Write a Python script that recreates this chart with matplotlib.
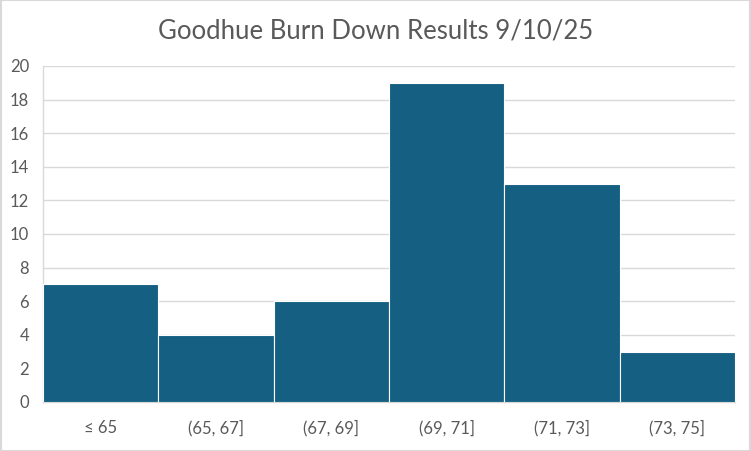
import matplotlib
matplotlib.use("Agg")
import matplotlib.pyplot as plt
from matplotlib.patches import Rectangle

categories = ["≤ 65", "(65, 67]", "(67, 69]", "(69, 71]", "(71, 73]", "(73, 75]"]
counts = [7, 4, 6, 19, 13, 3]
yticks = [0, 2, 4, 6, 8, 10, 12, 14, 16, 18, 20]
title = "Goodhue Burn Down Results 9/10/25"

plt.rcParams['font.family'] = ['Lato', 'DejaVu Sans']
text_color = "#595959"
grid_color = "#d9d9d9"
bar_color = "#156082"

fig = plt.figure(figsize=(7.51, 4.51), dpi=100)
ax = fig.add_axes([43/751, 1-402/451, (735-43)/751, (402-66)/451])

x = list(range(len(categories)))
ax.bar(x, counts, width=1.0, color=bar_color, edgecolor="white", linewidth=0.8, zorder=3)
ax.set_xlim(-0.5, len(categories)-0.5)
ax.set_ylim(0, 20)
ax.set_yticks(yticks)
ax.set_yticklabels([str(t) for t in yticks], color=text_color, fontsize=12)
ax.set_xticks(x)
ax.set_xticklabels(categories, color=text_color, fontsize=12)
ax.tick_params(axis='both', length=0)
ax.tick_params(axis='x', pad=13)
ax.tick_params(axis='y', pad=10)
ax.grid(axis='y', color=grid_color, linewidth=1.0, zorder=0)
for s in ['top', 'right']:
    ax.spines[s].set_visible(False)
ax.spines['left'].set_color(grid_color)
ax.spines['bottom'].set_color(grid_color)
ax.spines['left'].set_linewidth(1.0)
ax.spines['bottom'].set_linewidth(1.0)

fig.text(0.5, 1-31/451, title, ha='center', va='center', fontsize=18.5, color=text_color)
fig.patches.append(Rectangle((0.001, 0.001), 0.998, 0.998, transform=fig.transFigure,
                             fill=False, edgecolor="#d9d9d9", linewidth=1.5))
fig.savefig("out.png", dpi=100, facecolor="white")
